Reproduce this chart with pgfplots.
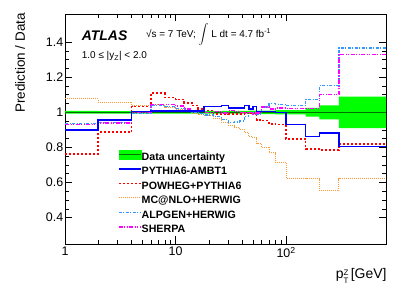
\documentclass[border=0pt]{standalone}
\usepackage{pgfplots}
\pgfplotsset{compat=1.18}
\usepackage{pgfplotstable}
\usepgfplotslibrary{fillbetween}
\usepackage{fontspec}
\setmainfont{Liberation Sans}

\definecolor{bandgreen}{RGB}{0,255,0}
\definecolor{dkgreen}{RGB}{0,110,0}
\definecolor{mcorange}{RGB}{255,153,51}
\definecolor{alpblue}{RGB}{51,153,255}
\definecolor{pyblue}{RGB}{0,0,255}
\definecolor{pwred}{RGB}{255,0,0}
\definecolor{shmag}{RGB}{255,0,255}

% left bin edge, data uncertainty (half width), ratios
\pgfplotstableread{
x    unc    py     pw     mc     al     sh
1    0.008  0.900  0.764  1.076  0.935  0.930
2    0.007  0.956  0.886  1.057  0.940  0.940
4    0.007  1.004  1.033  1.037  0.992  1.000
6    0.007  1.006  1.109  1.044  1.040  1.045
8    0.007  1.008  1.085  1.030  1.035  1.044
10   0.007  1.008  1.073  1.015  1.020  1.035
12   0.007  1.008  1.054  1.005  1.010  1.020
14   0.007  1.008  1.038  0.995  1.000  1.010
16   0.007  1.008  1.019  0.990  0.995  1.005
18   0.007  1.033  1.010  0.981  0.985  1.000
22   0.007  1.034  0.992  0.962  0.975  1.005
26   0.008  1.038  0.992  0.943  0.960  0.995
30   0.008  1.025  0.990  0.924  0.943  1.010
34   0.008  1.025  0.990  0.912  0.945  1.005
38   0.008  1.025  0.990  0.903  0.950  1.000
42   0.008  1.038  0.995  0.886  0.975  0.995
46   0.009  1.020  0.998  0.865  1.000  1.000
50   0.009  1.033  0.998  0.855  1.000  0.990
54   0.009  1.005  0.955  0.825  0.990  0.995
60   0.010  1.005  0.953  0.800  1.030  1.030
70   0.010  1.005  0.932  0.771  1.048  1.020
80   0.012  1.000  0.930  0.714  1.045  1.025
100  0.012  0.930  0.850  0.623  1.040  1.023
150  0.025  0.862  0.790  0.623  1.075  1.023
200  0.040  0.881  0.787  0.553  1.153  1.100
300  0.090  0.806  0.820  0.623  1.366  1.330
800  0.090  0.806  0.820  0.623  1.366  1.330
}\ratios

\begin{document}
\begin{tikzpicture}
\begin{axis}[
  at={(0,0)}, anchor=south west,
  scale only axis, width=321bp, height=230bp,
  xmode=log, xmin=1, xmax=800, ymin=0.25, ymax=1.56,
  xtick={1,10,100}, xticklabels={1,10,10\textsuperscript{2}},
  ytick={0.4,0.6,0.8,1,1.2,1.4},
  minor y tick num=3,
  tick align=inside, tick pos=both,
  major tick length=7.5bp, minor tick length=4bp,
  axis line style={black, line width=0.7bp},
  tick style={black, line width=0.6bp},
  /pgf/number format/assume math mode=true,
  ticklabel style={font=\fontsize{12.5}{14}\selectfont},
  yticklabel style={inner xsep=1.5bp},
  xticklabel style={inner ysep=3bp},
  legend cell align=left,
  legend style={at={(rel axis cs:0.165,0.41)}, anchor=north west, draw=none, fill=none,
    inner sep=0pt, outer sep=0pt, row sep=4bp,
    font=\fontsize{10.7}{12}\selectfont\bfseries,
    nodes={inner sep=0pt, text height=8bp, text depth=2.5bp},
    /tikz/every even column/.append style={column sep=4bp}},
  clip=true,
]
% data uncertainty band
\addplot[const plot, draw=none, name path=up, forget plot] table[x=x, y expr=1+\thisrow{unc}] {\ratios};
\addplot[const plot, draw=none, name path=lo, forget plot] table[x=x, y expr=1-\thisrow{unc}] {\ratios};
\addplot[fill=bandgreen, draw=none, forget plot] fill between[of=up and lo];
\addplot[const plot, dkgreen, line width=1bp, forget plot] table[x=x, y expr=1] {\ratios};
% predictions
\addplot[const plot, mcorange, line width=1bp, dash pattern=on 1bp off 1bp, forget plot] table[x=x, y=mc] {\ratios};
\addplot[const plot, pwred, line width=1.7bp, dash pattern=on 2bp off 2bp, forget plot] table[x=x, y=pw] {\ratios};
\addplot[const plot, alpblue, line width=1.2bp, dash pattern=on 3bp off 1.5bp on 1bp off 1.5bp, forget plot] table[x=x, y=al] {\ratios};
\addplot[const plot, shmag, line width=1.4bp, dash pattern=on 4bp off 1.5bp on 1bp off 1.5bp on 1bp off 1.5bp, forget plot] table[x=x, y=sh] {\ratios};
\addplot[const plot, pyblue, line width=1.6bp, forget plot] table[x=x, y=py] {\ratios};
% legend
\addlegendimage{legend image code/.code={\fill[bandgreen] (0bp,-1.5bp) rectangle (22bp,7.5bp); \draw[dkgreen, line width=1.2bp] (0bp,3bp) -- (22bp,3bp);}}
\addlegendentry{Data uncertainty}
\addlegendimage{legend image code/.code={\draw[pyblue, line width=1.6bp] (0bp,3bp) -- (22bp,3bp);}}
\addlegendentry{PYTHIA6-AMBT1}
\addlegendimage{legend image code/.code={\draw[pwred, line width=1.7bp, dash pattern=on 2bp off 2bp] (0bp,3bp) -- (22bp,3bp);}}
\addlegendentry{POWHEG+PYTHIA6}
\addlegendimage{legend image code/.code={\draw[mcorange, line width=1bp, dash pattern=on 1bp off 1bp] (0bp,3bp) -- (22bp,3bp);}}
\addlegendentry{MC@NLO+HERWIG}
\addlegendimage{legend image code/.code={\draw[alpblue, line width=1.2bp, dash pattern=on 3bp off 1.5bp on 1bp off 1.5bp] (0bp,3bp) -- (22bp,3bp);}}
\addlegendentry{ALPGEN+HERWIG}
\addlegendimage{legend image code/.code={\draw[shmag, line width=1.4bp, dash pattern=on 4bp off 1.5bp on 1bp off 1.5bp on 1bp off 1.5bp] (0bp,3bp) -- (22bp,3bp);}}
\addlegendentry{SHERPA}
\end{axis}
\node[anchor=west, inner sep=0pt, font=\fontsize{14}{16}\selectfont\bfseries\itshape] at (16.7bp,208.3bp) {ATLAS};
\node[anchor=west, inner sep=0pt, font=\fontsize{10}{12}\selectfont] at (81bp,209bp) {√s = 7 TeV; $\displaystyle\int$ L dt = 4.7 fb\textsuperscript{-1}};
\node[anchor=west, inner sep=0pt, font=\fontsize{10}{12}\selectfont] at (16.7bp,188bp) {1.0 ≤ |y\textsubscript{Z}| < 2.0};
\node[anchor=east, rotate=90, inner sep=0pt, font=\fontsize{13.5}{16}\selectfont] at (-45bp,231bp) {Prediction / Data};
\node[anchor=east, inner sep=0pt, font=\fontsize{14}{16}\selectfont] at (321.7bp,-32bp) {p\raisebox{-5.5bp}{\fontsize{8}{9.5}\selectfont\shortstack[l]{Z\\T}}\,[GeV]};
\path[use as bounding box] (-65bp,-48bp) rectangle (342bp,244bp);
\end{tikzpicture}
\end{document}
